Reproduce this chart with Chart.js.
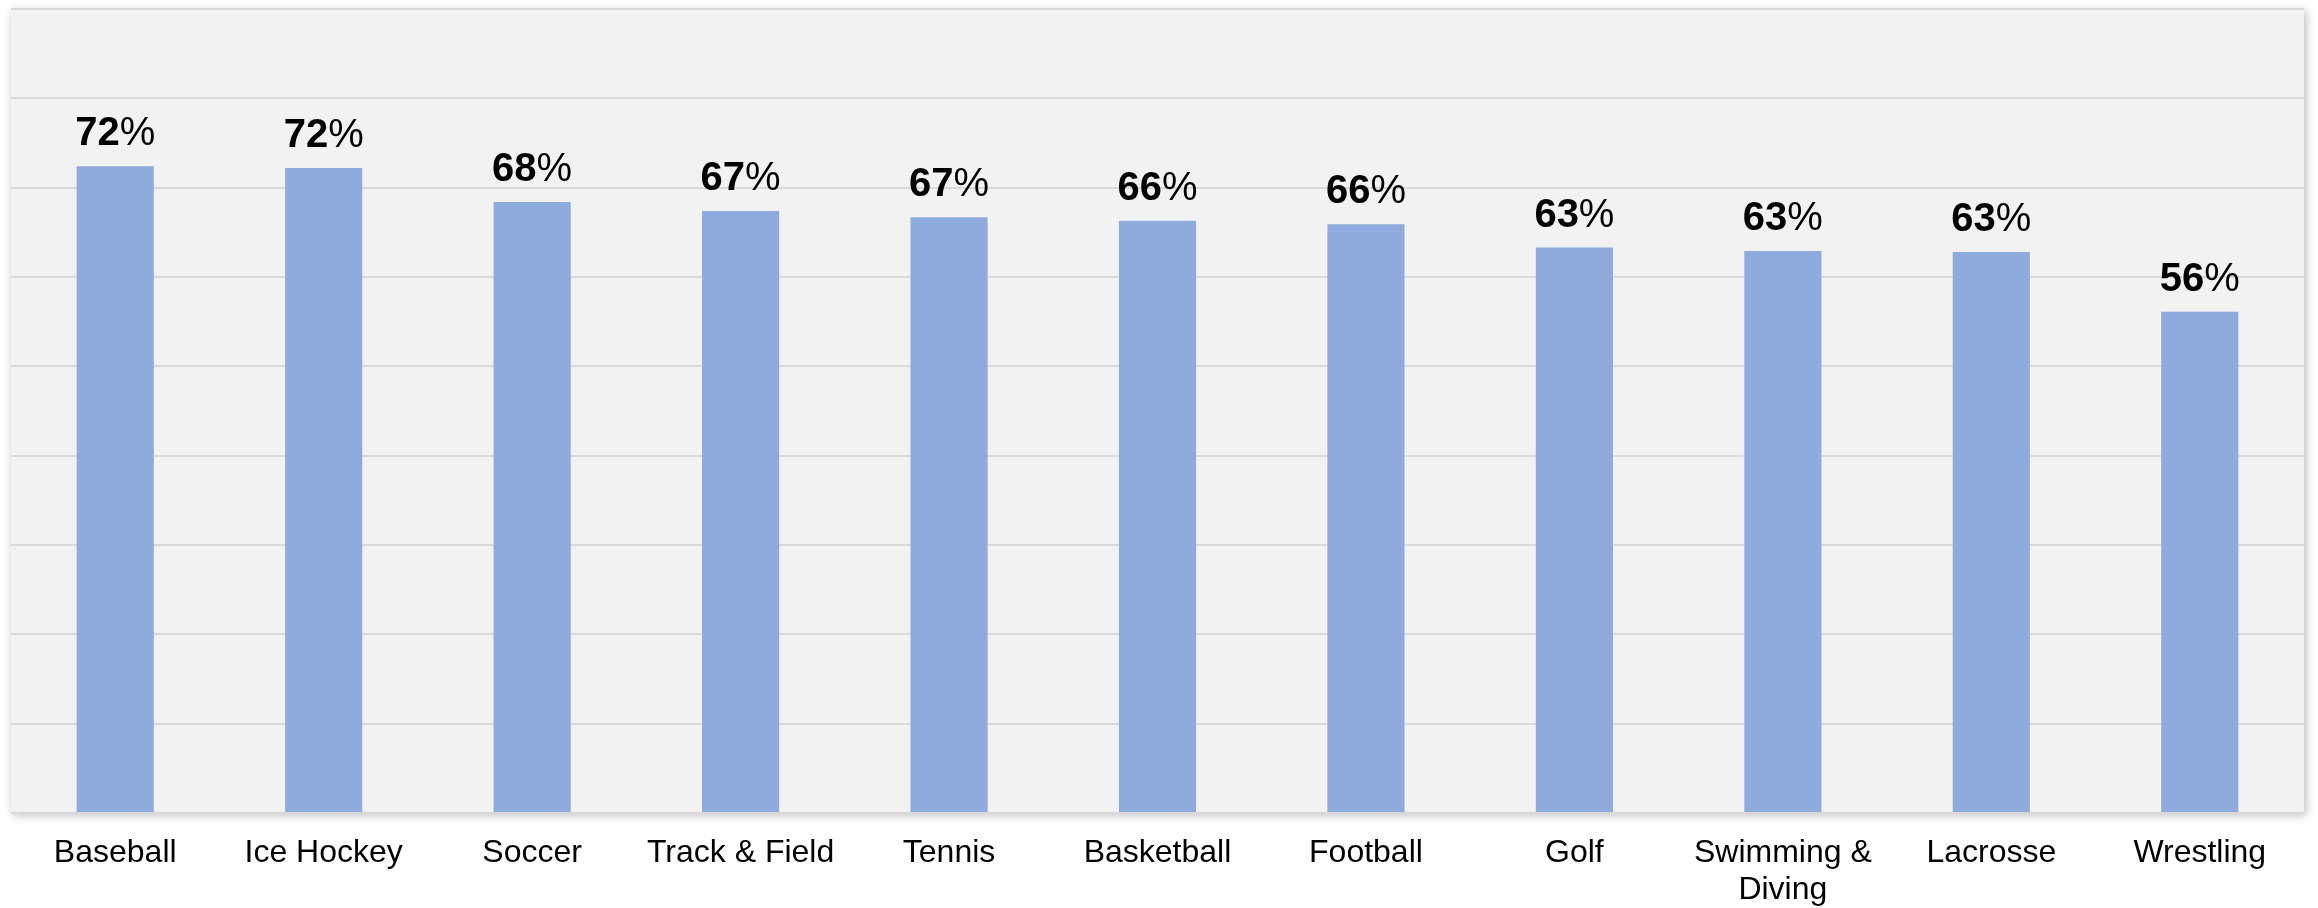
<!DOCTYPE html>
<html>
<head>
<meta charset="utf-8">
<title>Sports</title>
<script src="https://cdn.jsdelivr.net/npm/chart.js@4/dist/chart.umd.min.js"></script>
<style>
  html, body { margin: 0; padding: 0; background: #ffffff; }
  #wrap { width: 2318px; height: 908px; }
</style>
</head>
<body>
<div id="wrap"><canvas id="chart" width="2318" height="908"></canvas></div>
<script>
// Categories along the horizontal axis
const sports = [
  'Baseball', 'Ice Hockey', 'Soccer', 'Track & Field', 'Tennis', 'Basketball',
  'Football', 'Golf', ['Swimming &', 'Diving'], 'Lacrosse', 'Wrestling'
];

// Share per sport, in percent
const shares = [72.4, 72.2, 68.4, 67.4, 66.7, 66.3, 65.9, 63.3, 62.9, 62.8, 56.1];

// Value axis range and gridline step
const axisMin = 0;
const axisMax = 90;
const axisStep = 10;

// Light grey panel with a soft drop shadow behind the plot area
const panelBackground = {
  id: 'panelBackground',
  beforeDraw(chart) {
    const { ctx, chartArea: a } = chart;
    ctx.save();
    ctx.shadowColor = 'rgba(0,0,0,0.28)';
    ctx.shadowBlur = 9;
    ctx.shadowOffsetX = 2;
    ctx.shadowOffsetY = 2;
    ctx.fillStyle = '#f2f2f2';
    ctx.fillRect(a.left, a.top, a.right - a.left, a.bottom - a.top);
    ctx.restore();
  }
};

// Rounded value above each bar: bold digits followed by a regular-weight "%"
const valueLabels = {
  id: 'valueLabels',
  afterDatasetsDraw(chart) {
    const { ctx } = chart;
    const meta = chart.getDatasetMeta(0);
    const values = chart.data.datasets[0].data;
    ctx.save();
    ctx.fillStyle = '#000000';
    ctx.textBaseline = 'alphabetic';
    ctx.textAlign = 'left';
    const bold = 'bold 40px "Liberation Sans", Arial, sans-serif';
    const regular = '40px "Liberation Sans", Arial, sans-serif';
    meta.data.forEach((bar, i) => {
      const num = String(Math.round(values[i]));
      ctx.font = bold;
      const wNum = ctx.measureText(num).width;
      ctx.font = regular;
      const wPct = ctx.measureText('%').width;
      const x0 = bar.x - (wNum + wPct) / 2;
      const y = bar.y - 21;
      ctx.font = bold;
      ctx.fillText(num, x0, y);
      ctx.font = regular;
      ctx.fillText('%', x0 + wNum, y);
    });
    ctx.restore();
  }
};

new Chart(document.getElementById('chart'), {
  type: 'bar',
  data: {
    labels: sports,
    datasets: [{
      data: shares,
      backgroundColor: '#8faadc',
      borderWidth: 0,
      barPercentage: 0.37,
      categoryPercentage: 1.0
    }]
  },
  options: {
    responsive: false,
    animation: false,
    events: [],
    layout: { padding: { left: 11, right: 14, top: 9, bottom: 0 } },
    plugins: {
      legend: { display: false },
      tooltip: { enabled: false },
      title: { display: false }
    },
    scales: {
      x: {
        grid: { display: false, drawTicks: false },
        border: { display: false },
        afterFit(scale) { scale.height = 95; },
        ticks: {
          color: '#000000',
          font: { family: '"Liberation Sans", Arial, sans-serif', size: 32, lineHeight: 1.15 },
          padding: 22,
          maxRotation: 0,
          minRotation: 0,
          autoSkip: false
        }
      },
      y: {
        min: axisMin,
        max: axisMax,
        border: { display: false },
        grid: { color: '#d9d9d9', lineWidth: 2, drawTicks: false },
        ticks: { display: false, stepSize: axisStep }
      }
    }
  },
  plugins: [panelBackground, valueLabels]
});
</script>
</body>
</html>
